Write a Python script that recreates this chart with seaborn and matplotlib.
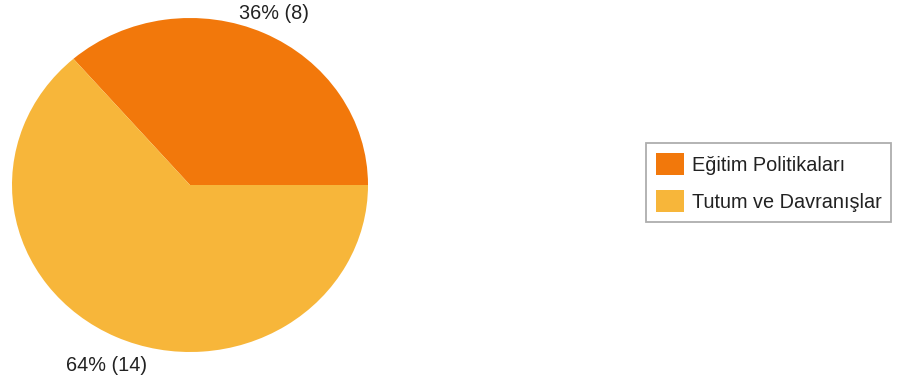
import matplotlib
matplotlib.use("Agg")
import matplotlib.pyplot as plt
import seaborn as sns
import numpy as np

categories = ["Eğitim Politikaları", "Tutum ve Davranışlar"]
counts = [8, 14]
percent_labels = ["36% (8)", "64% (14)"]
colors = ["#F2780B", "#F7B63A"]

sns.set_theme(style="white")
plt.rcParams['font.family'] = ['Liberation Sans', 'DejaVu Sans']

fig = plt.figure(figsize=(8.97, 3.78), dpi=100)
ax = fig.add_axes([12/897, 26/378, 356/897, 334/378])
wedges, texts = ax.pie(counts, labels=percent_labels, colors=sns.color_palette(colors),
                       startangle=0, counterclock=True, labeldistance=1.13,
                       textprops=dict(fontsize=14.3, color="#222222"),
                       wedgeprops=dict(linewidth=0))
for t in texts:
    t.set_ha("center")
    x, y = t.get_position()
    if y < 0:
        t.set_position((x, y * 1.05))
ax.set_aspect("auto")
ax.set_xlim(-1, 1)
ax.set_ylim(-1, 1)
ax.axis("off")

leg = fig.legend(wedges, categories, loc="upper left",
                 bbox_to_anchor=(646/897, 1 - 143/378), borderaxespad=0,
                 fontsize=14.3, frameon=True, fancybox=False,
                 handlelength=1.4, handleheight=1.35, handletextpad=0.4,
                 labelspacing=0.75, borderpad=0.5)
leg.get_frame().set_edgecolor("#9a9a9a")
leg.get_frame().set_linewidth(1.3)
for t in leg.get_texts():
    t.set_color("#222222")

fig.savefig("out.png", dpi=100)
